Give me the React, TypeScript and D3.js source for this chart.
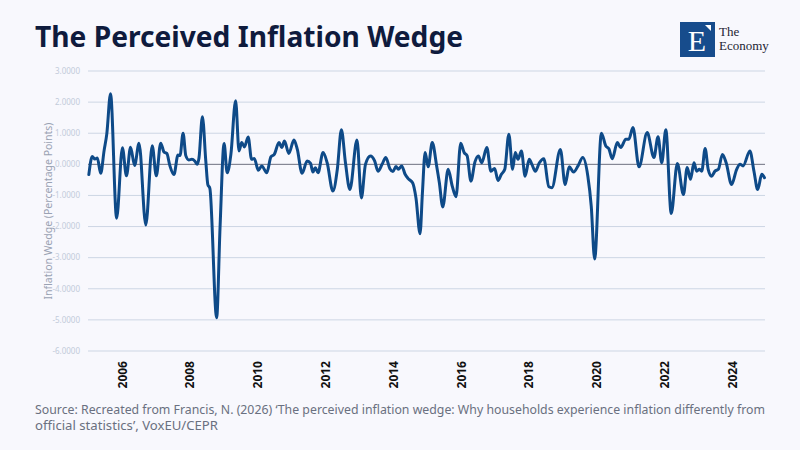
import * as d3 from 'd3';

// Perceived inflation wedge, percentage points (at turning points)
const DATES = [
  2005.01, 2005.11, 2005.19, 2005.26, 2005.36, 2005.46, 2005.54, 2005.65, 2005.83, 2006.0,
  2006.12, 2006.24, 2006.36, 2006.49, 2006.69, 2006.88, 2007.0, 2007.13, 2007.23, 2007.31,
  2007.4, 2007.52, 2007.64, 2007.7, 2007.79, 2007.87, 2007.96, 2008.05, 2008.14, 2008.21,
  2008.26, 2008.36, 2008.46, 2008.52, 2008.58, 2008.78, 2008.88, 2009.0, 2009.09, 2009.2,
  2009.34, 2009.44, 2009.52, 2009.6, 2009.71, 2009.81, 2009.89, 2010.01, 2010.11, 2010.26,
  2010.38, 2010.48, 2010.62, 2010.7, 2010.78, 2010.91, 2011.06, 2011.16, 2011.3, 2011.45,
  2011.55, 2011.62, 2011.69, 2011.77, 2011.92, 2012.04, 2012.21, 2012.34, 2012.46, 2012.58,
  2012.71, 2012.92, 2013.05, 2013.17, 2013.32, 2013.44, 2013.54, 2013.66, 2013.77, 2013.89,
  2013.98, 2014.07, 2014.14, 2014.24, 2014.34, 2014.43, 2014.56, 2014.66, 2014.78, 2014.85,
  2014.93, 2015.02, 2015.14, 2015.27, 2015.35, 2015.45, 2015.61, 2015.73, 2015.84, 2015.98,
  2016.08, 2016.17, 2016.28, 2016.4, 2016.5, 2016.6, 2016.75, 2016.87, 2016.98, 2017.08,
  2017.18, 2017.28, 2017.4, 2017.51, 2017.59, 2017.67, 2017.77, 2017.88, 2018.0, 2018.08,
  2018.18, 2018.3, 2018.43, 2018.58, 2018.67, 2018.92, 2019.06, 2019.18, 2019.31, 2019.44,
  2019.58, 2019.73, 2019.83, 2019.93, 2020.13, 2020.26, 2020.35, 2020.45, 2020.6, 2020.7,
  2020.85, 2020.94, 2021.06, 2021.24, 2021.48, 2021.68, 2021.8, 2021.91, 2022.03, 2022.19,
  2022.37, 2022.55, 2022.66, 2022.76, 2022.86, 2022.94, 2023.02, 2023.09, 2023.19, 2023.28,
  2023.38, 2023.48, 2023.58, 2023.7, 2023.81, 2023.97, 2024.12, 2024.22, 2024.31, 2024.51,
  2024.63, 2024.74, 2024.86, 2024.94,
];

const WEDGE = [
  -0.33, 0.25, 0.17, 0.2, -0.29, 0.44, 0.98, 2.27, -1.73, 0.53,
  -0.37, 0.55, -0.04, 0.68, -1.95, 0.6, -0.37, 0.68, 0.39, 0.35,
  -0.04, -0.33, 0.3, 0.28, 1.0, 0.28, 0.14, 0.16, 0.1, 0.0,
  0.21, 1.53, 0.11, -0.65, -0.77, -4.93, -2.04, 0.67, -0.27, 0.32,
  2.04, 0.43, 0.7, 0.56, 0.88, 0.16, 0.19, -0.19, -0.05, -0.27,
  0.24, 0.32, 0.7, 0.54, 0.75, 0.35, 0.78, 0.48, -0.29, 0.11,
  0.03, -0.25, -0.11, -0.27, 0.38, 0.05, -0.86, -0.16, 1.11, 0.05,
  -0.81, 0.78, -1.08, 0.0, 0.27, 0.11, -0.22, 0.0, 0.22, -0.14,
  -0.23, -0.07, -0.16, -0.05, -0.32, -0.46, -0.59, -1.08, -2.23, -0.92,
  0.38, -0.08, 0.7, -0.05, -0.59, -1.37, -0.16, -0.7, -1.04, 0.68,
  0.38, 0.27, -0.54, 0.08, 0.27, 0.05, 0.54, -0.22, -0.13, -0.52,
  -0.32, -0.16, 0.97, -0.16, 0.38, 0.16, 0.43, -0.38, 0.16, 0.0,
  -0.22, 0.05, 0.18, -0.72, -0.75, 0.48, -0.65, -0.08, -0.25, -0.05,
  0.22, -0.38, -1.34, -3.04, 1.0, 0.59, 0.5, 0.18, 0.7, 0.54,
  0.81, 0.81, 1.18, -0.08, 1.02, 0.22, 0.89, 0.05, 1.11, -1.58,
  0.03, -0.97, -0.1, -0.48, 0.05, -0.22, -0.16, -0.22, 0.51, -0.16,
  -0.38, -0.22, -0.16, 0.32, 0.05, -0.65, -0.16, 0.0, -0.05, 0.43,
  -0.22, -0.81, -0.32, -0.43,
];

const Y_TICKS = [3, 2, 1, 0, -1, -2, -3, -4, -5, -6];
const X_TICKS = [2006, 2008, 2010, 2012, 2014, 2016, 2018, 2020, 2022, 2024];

const TITLE = 'The Perceived Inflation Wedge';
const Y_LABEL = 'Inflation Wedge (Percentage Points)';
const SOURCE_1 =
  'Source: Recreated from Francis, N. (2026) \u2018The perceived inflation wedge: Why households experience inflation differently from';
const SOURCE_2 = 'official statistics\u2019, VoxEU/CEPR';

const W = 800;
const H = 450;
const PLOT = { left: 88, right: 765, top: 71, bottom: 351 };
const SANS = "'Noto Sans', 'Open Sans', sans-serif";

export default function App() {
  const x = d3.scaleLinear().domain([2005, 2025]).range([88.5, 766.5]);
  const y = d3.scaleLinear().domain([-6, 3]).range([PLOT.bottom, PLOT.top]);
  const fmt = (v: number) => d3.format('.4f')(v).replace('\u2212', '-');

  const points: [number, number][] = DATES.map((d, i) => [d, WEDGE[i]]);
  const line = d3
    .line<[number, number]>()
    .x(d => x(d[0]))
    .y(d => y(d[1]))
    .curve(d3.curveMonotoneX);

  return (
    <div style={{ position: 'absolute', left: 0, top: 0 }}>
      <svg width={W} height={H} style={{ display: 'block' }}>
        <rect width={W} height={H} fill="#f8f8fd" />

        {/* title */}
        <text
          x={35}
          y={47}
          fontFamily={SANS}
          fontWeight={700}
          fontSize={29}
          fill="#0f1b3d"
          textLength={428}
          lengthAdjust="spacingAndGlyphs"
        >
          {TITLE}
        </text>

        {/* logo */}
        <g>
          <rect x={680} y={22} width={35} height={35} fill="#174c8c" />
          <text
            x={697}
            y={51}
            textAnchor="middle"
            fontFamily="'Liberation Serif', 'DejaVu Serif', serif"
            fontSize={30}
            fill="#ffffff"
          >
            E
          </text>
          <path d="M705,25 L711,25 L711,31 Z" fill="#ffffff" />
          <text x={719} y={36} fontFamily="'Liberation Serif', serif" fontSize={13} fill="#1e2433">
            The
          </text>
          <text x={719} y={50} fontFamily="'Liberation Serif', serif" fontSize={13} fill="#1e2433">
            Economy
          </text>
        </g>

        {/* grid */}
        {Y_TICKS.map(t => (
          <g key={t}>
            <line
              x1={PLOT.left}
              x2={PLOT.right}
              y1={y(t)}
              y2={y(t)}
              stroke={t === 0 ? '#6e7080' : '#cdd6e4'}
              strokeWidth={1}
            />
            <text
              x={80}
              y={y(t)}
              dy="0.35em"
              textAnchor="end"
              fontFamily={SANS}
              fontSize={8}
              fill="#c2cbda"
            >
              {fmt(t)}
            </text>
          </g>
        ))}

        {/* y axis title */}
        <text
          transform={`translate(52, ${(PLOT.top + PLOT.bottom) / 2}) rotate(-90)`}
          textAnchor="middle"
          fontFamily={SANS}
          fontSize={10.5}
          fill="#9aa2b3"
        >
          {Y_LABEL}
        </text>

        {/* x labels */}
        {X_TICKS.map(t => (
          <text
            key={t}
            transform={`translate(${x(t)}, 361) rotate(-90)`}
            dy="0.35em"
            textAnchor="end"
            fontFamily={SANS}
            fontWeight={700}
            fontSize={12}
            fill="#111111"
          >
            {t}
          </text>
        ))}

        {/* series */}
        <path
          d={line(points) ?? ''}
          fill="none"
          stroke="#0e4a88"
          strokeWidth={3}
          strokeLinejoin="round"
          strokeLinecap="round"
        />

        {/* source */}
        <text
          x={35}
          y={414}
          fontFamily={SANS}
          fontSize={12}
          fill="#6a7080"
          textLength={730}
          lengthAdjust="spacingAndGlyphs"
        >
          {SOURCE_1}
        </text>
        <text x={35} y={430} fontFamily={SANS} fontSize={12} fill="#6a7080" textLength={183} lengthAdjust="spacingAndGlyphs">
          {SOURCE_2}
        </text>
      </svg>
    </div>
  );
}
